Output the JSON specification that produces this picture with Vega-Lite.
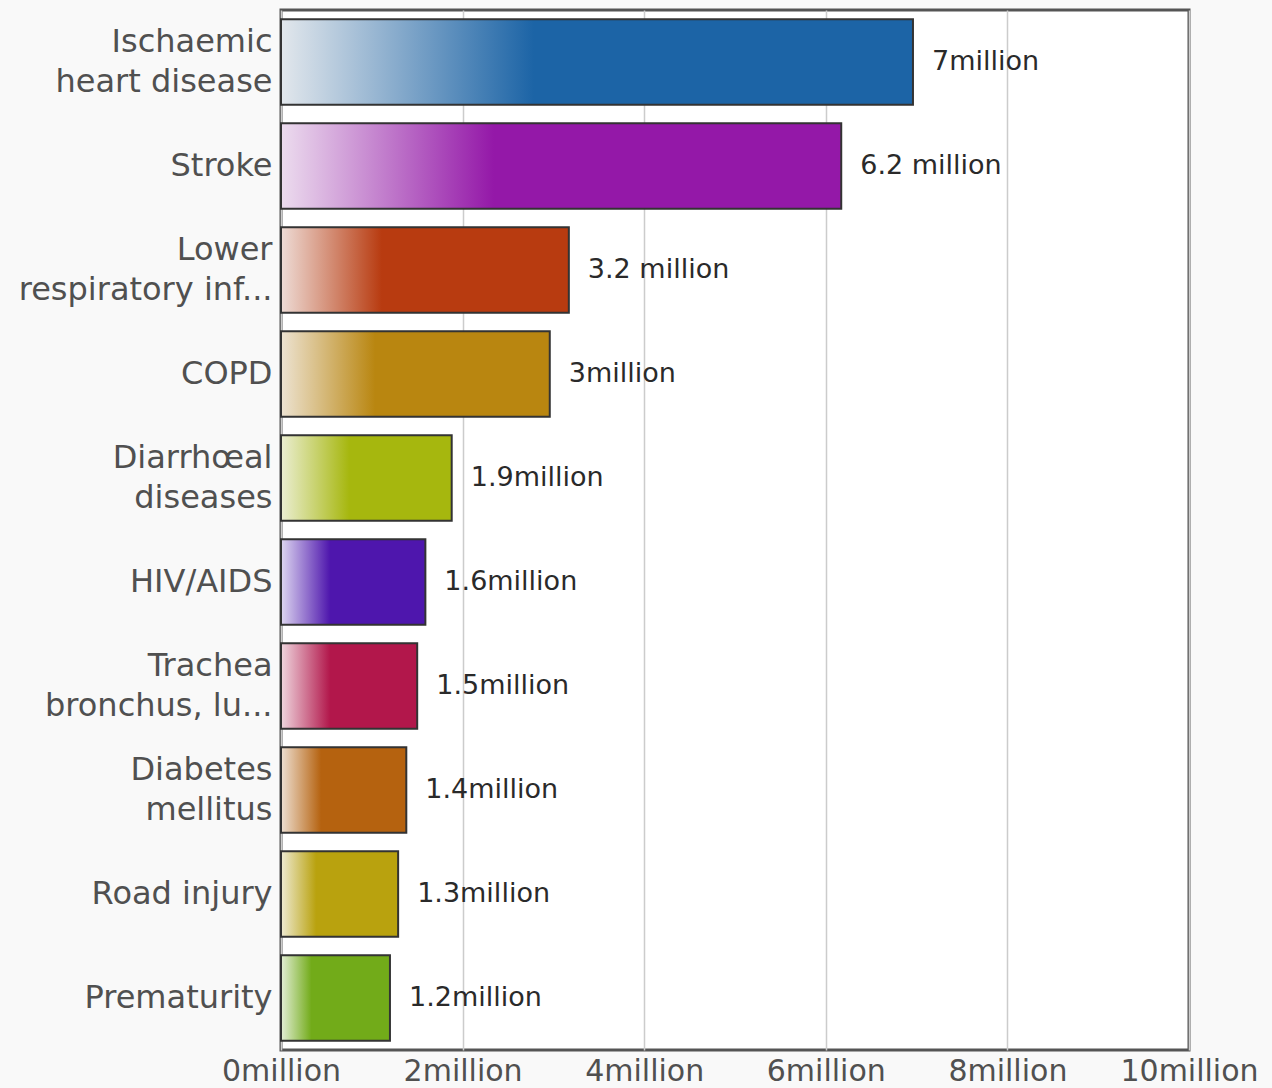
{
  "$schema": "https://vega.github.io/schema/vega-lite/v6.json",
  "autosize": "none",
  "padding": {"left": 281, "top": 10, "right": 83, "bottom": 38},
  "width": 908,
  "height": 1040,
  "background": "#f9f9f9",
  "config": {
    "view": {"fill": "white", "stroke": "#555555", "strokeWidth": 3},
    "font": "DejaVu Sans"
  },
  "data": {
    "values": [
      {"cause": "Ischaemic|heart disease", "k": "ihd", "deaths": 6.96, "label": "7million"},
      {"cause": "Stroke", "k": "stroke", "deaths": 6.17, "label": "6.2 million"},
      {"cause": "Lower|respiratory inf...", "k": "lri", "deaths": 3.17, "label": "3.2 million"},
      {"cause": "COPD", "k": "copd", "deaths": 2.96, "label": "3million"},
      {"cause": "Diarrhœal|diseases", "k": "diar", "deaths": 1.88, "label": "1.9million"},
      {"cause": "HIV/AIDS", "k": "hiv", "deaths": 1.59, "label": "1.6million"},
      {"cause": "Trachea|bronchus, lu...", "k": "trach", "deaths": 1.5, "label": "1.5million"},
      {"cause": "Diabetes|mellitus", "k": "diab", "deaths": 1.38, "label": "1.4million"},
      {"cause": "Road injury", "k": "road", "deaths": 1.29, "label": "1.3million"},
      {"cause": "Prematurity", "k": "prem", "deaths": 1.2, "label": "1.2million"}
    ]
  },
  "encoding": {
    "y": {
      "field": "cause",
      "type": "nominal",
      "sort": null,
      "scale": {"paddingInner": 0.18, "paddingOuter": 0.09},
      "axis": {
        "title": null,
        "domain": false,
        "ticks": false,
        "labelExpr": "split(datum.label, '|')",
        "labelFontSize": 32,
        "labelLineHeight": 40,
        "labelBaseline": "middle",
        "labelOffset": {"condition": {"test": "indexof(datum.label, '|') >= 0", "value": -20}, "value": 0},
        "labelLimit": 400,
        "labelColor": "#505050",
        "labelPadding": 9,
        "labelFont": "DejaVu Sans"
      }
    },
    "x": {
      "field": "deaths",
      "type": "quantitative",
      "scale": {"domain": [0, 10], "nice": false},
      "axis": {
        "title": null,
        "domain": false,
        "ticks": false,
        "values": [0, 2, 4, 6, 8, 10],
        "labelExpr": "datum.value + 'million'",
        "labelFontSize": 30,
        "labelColor": "#505050",
        "labelPadding": 6,
        "labelFlush": false,
        "labelOverlap": false,
        "grid": true,
        "gridColor": "#cccccc",
        "gridWidth": 1.5,
        "labelFont": "DejaVu Sans"
      }
    }
  },
  "layer": [
    {
      "mark": {"type": "bar", "stroke": "#333333", "strokeWidth": 2},
      "encoding": {
        "fill": {
          "condition": [
            {"test": "datum.k === 'ihd'", "value": {"gradient": "linear", "x1": 0, "x2": 1, "y1": 0, "y2": 0, "stops": [{"offset": 0, "color": "#e2e7ec"}, {"offset": 0.4, "color": "#1c64a6"}, {"offset": 1, "color": "#1c64a6"}]}},
            {"test": "datum.k === 'stroke'", "value": {"gradient": "linear", "x1": 0, "x2": 1, "y1": 0, "y2": 0, "stops": [{"offset": 0, "color": "#ecdcee"}, {"offset": 0.38, "color": "#9418a8"}, {"offset": 1, "color": "#9418a8"}]}},
            {"test": "datum.k === 'lri'", "value": {"gradient": "linear", "x1": 0, "x2": 1, "y1": 0, "y2": 0, "stops": [{"offset": 0, "color": "#eedcd6"}, {"offset": 0.35, "color": "#b83b10"}, {"offset": 1, "color": "#b83b10"}]}},
            {"test": "datum.k === 'copd'", "value": {"gradient": "linear", "x1": 0, "x2": 1, "y1": 0, "y2": 0, "stops": [{"offset": 0, "color": "#ede3d2"}, {"offset": 0.35, "color": "#b98610"}, {"offset": 1, "color": "#b98610"}]}},
            {"test": "datum.k === 'diar'", "value": {"gradient": "linear", "x1": 0, "x2": 1, "y1": 0, "y2": 0, "stops": [{"offset": 0, "color": "#ebeed2"}, {"offset": 0.4, "color": "#a6b70e"}, {"offset": 1, "color": "#a6b70e"}]}},
            {"test": "datum.k === 'hiv'", "value": {"gradient": "linear", "x1": 0, "x2": 1, "y1": 0, "y2": 0, "stops": [{"offset": 0, "color": "#ddd6f0"}, {"offset": 0.34, "color": "#4e16ad"}, {"offset": 1, "color": "#4e16ad"}]}},
            {"test": "datum.k === 'trach'", "value": {"gradient": "linear", "x1": 0, "x2": 1, "y1": 0, "y2": 0, "stops": [{"offset": 0, "color": "#efd6de"}, {"offset": 0.36, "color": "#b2174b"}, {"offset": 1, "color": "#b2174b"}]}},
            {"test": "datum.k === 'diab'", "value": {"gradient": "linear", "x1": 0, "x2": 1, "y1": 0, "y2": 0, "stops": [{"offset": 0, "color": "#eee0d2"}, {"offset": 0.32, "color": "#b5620f"}, {"offset": 1, "color": "#b5620f"}]}},
            {"test": "datum.k === 'road'", "value": {"gradient": "linear", "x1": 0, "x2": 1, "y1": 0, "y2": 0, "stops": [{"offset": 0, "color": "#eeead2"}, {"offset": 0.3, "color": "#b9a20e"}, {"offset": 1, "color": "#b9a20e"}]}},
            {"test": "datum.k === 'prem'", "value": {"gradient": "linear", "x1": 0, "x2": 1, "y1": 0, "y2": 0, "stops": [{"offset": 0, "color": "#e3eed6"}, {"offset": 0.28, "color": "#72ab19"}, {"offset": 1, "color": "#72ab19"}]}}
          ],
          "value": "#888888"
        }
      }
    },
    {
      "mark": {"type": "text", "align": "left", "baseline": "middle", "dx": 19, "fontSize": 27, "color": "#2a2a2a", "font": "DejaVu Sans"},
      "encoding": {"text": {"field": "label"}}
    }
  ]
}
